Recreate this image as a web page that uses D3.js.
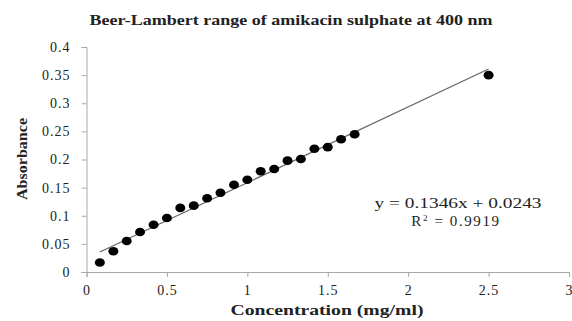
<!DOCTYPE html>
<html>
<head>
<meta charset="utf-8">
<script src="https://cdn.jsdelivr.net/npm/d3@7"></script>
<style>
  body { margin: 0; background: #fff; }
  text { font-family: "Liberation Serif", "Times New Roman", serif; fill: #222; }
</style>
</head>
<body>
<svg id="chart" width="572" height="321"></svg>
<script>
// concentration (mg/ml) and absorbance
const concentration = [0.083, 0.167, 0.25, 0.333, 0.417, 0.5, 0.583, 0.667, 0.75, 0.833,
  0.917, 1.0, 1.083, 1.167, 1.25, 1.333, 1.417, 1.5, 1.583, 1.667, 2.5];
const absorbance = [0.017, 0.037, 0.055, 0.071, 0.084, 0.096, 0.114, 0.118, 0.131, 0.141,
  0.155, 0.164, 0.179, 0.183, 0.198, 0.201, 0.219, 0.222, 0.236, 0.245, 0.350];
const xTicks = [0, 0.5, 1, 1.5, 2, 2.5, 3];
const yTicks = [0, 0.05, 0.1, 0.15, 0.2, 0.25, 0.3, 0.35, 0.4];
const slope = 0.1346, intercept = 0.0243;   // linear fit shown on chart

const svg = d3.select("#chart");
const margin = { top: 47, right: 3, bottom: 49, left: 86.5 };
const width = 572, height = 321;

const x = d3.scaleLinear([0, 3], [margin.left, width - margin.right]);
const y = d3.scaleLinear([0, 0.4], [height - margin.bottom, margin.top]);

const axisColor = "#a8a8a8";
const fmt = d => String(+d.toFixed(2));

// y axis
const yAxis = svg.append("g")
  .attr("transform", `translate(${margin.left},0)`)
  .call(d3.axisLeft(y).tickValues(yTicks).tickFormat(fmt).tickSize(5).tickPadding(11));
// x axis
const xAxis = svg.append("g")
  .attr("transform", `translate(0,${height - margin.bottom})`)
  .call(d3.axisBottom(x).tickValues(xTicks).tickFormat(fmt).tickSize(5).tickPadding(8));

[yAxis, xAxis].forEach(g => {
  g.select(".domain").attr("stroke", axisColor);
  g.selectAll(".tick line").attr("stroke", axisColor);
  g.selectAll(".tick text")
    .attr("fill", "#222")
    .style("font-size", "14px")
    .style("letter-spacing", "1px")
    .style("font-family", "Liberation Serif, serif");
});

// trend line over the data range
const xr = d3.extent(concentration);
svg.append("line")
  .attr("x1", x(xr[0])).attr("y1", y(slope * xr[0] + intercept))
  .attr("x2", x(xr[1])).attr("y2", y(slope * xr[1] + intercept))
  .attr("stroke", "#666")
  .attr("stroke-width", 1.2);

// markers
svg.append("g")
  .selectAll("ellipse")
  .data(concentration.map((c, i) => [c, absorbance[i]]))
  .join("ellipse")
  .attr("cx", d => x(d[0]))
  .attr("cy", d => y(d[1]))
  .attr("rx", 5)
  .attr("ry", 4.3)
  .attr("fill", "#000");

// titles (the source image is stretched sideways, so widths are fixed)
svg.append("text")
  .attr("x", 291).attr("y", 25)
  .attr("text-anchor", "middle")
  .attr("textLength", 403).attr("lengthAdjust", "spacingAndGlyphs")
  .style("font-weight", "bold").style("font-size", "14px")
  .text("Beer-Lambert range of amikacin sulphate at 400 nm");

svg.append("text")
  .attr("x", 327).attr("y", 315)
  .attr("text-anchor", "middle")
  .attr("textLength", 193).attr("lengthAdjust", "spacingAndGlyphs")
  .style("font-weight", "bold").style("font-size", "14px")
  .text("Concentration (mg/ml)");

svg.append("text")
  .attr("transform", "translate(27,159) rotate(-90)")
  .attr("text-anchor", "middle")
  .attr("textLength", 82).attr("lengthAdjust", "spacingAndGlyphs")
  .style("font-weight", "bold").style("font-size", "15px")
  .text("Absorbance");

// regression equation
svg.append("text")
  .attr("x", 458).attr("y", 208)
  .attr("text-anchor", "middle")
  .attr("textLength", 167).attr("lengthAdjust", "spacingAndGlyphs")
  .style("font-size", "15px")
  .text(`y = ${slope}x + ${intercept}`);
const r2 = svg.append("text")
  .attr("x", 456).attr("y", 226)
  .attr("text-anchor", "middle")
  .style("font-size", "15px")
  .style("letter-spacing", "1.6px");
r2.append("tspan").text("R");
r2.append("tspan").attr("dy", -5).style("font-size", "9px").text("2");
r2.append("tspan").attr("dy", 5).text(" = 0.9919");
</script>
</body>
</html>
